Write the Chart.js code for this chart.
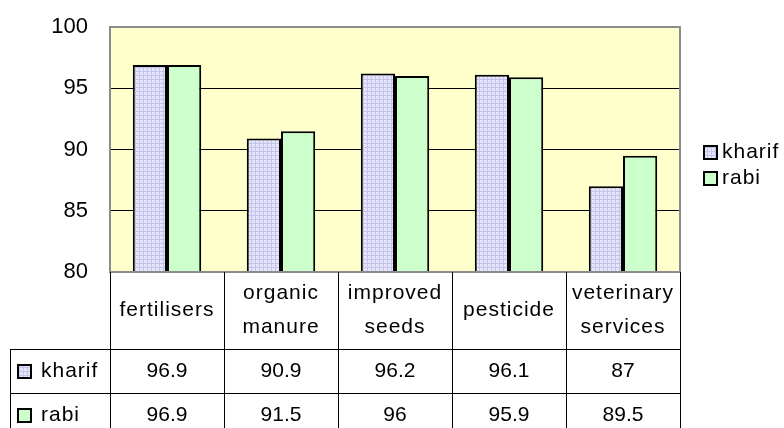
<!DOCTYPE html>
<html>
<head>
<meta charset="utf-8">
<script src="https://cdn.jsdelivr.net/npm/chart.js@4/dist/chart.umd.min.js"></script>
<style>
    html, body { margin: 0; padding: 0; background: #ffffff; }
    #wrap { width: 784px; height: 428px; }
</style>
</head>
<body>
<div id="wrap"><canvas id="chart" width="784" height="428"></canvas></div>
<script>
const categories = [['fertilisers'], ['organic', 'manure'], ['improved', 'seeds'], ['pesticide'], ['veterinary', 'services']];
const kharifValues = [96.9, 90.9, 96.2, 96.1, 87];
const rabiValues = [96.9, 91.5, 96, 95.9, 89.5];
const seriesNames = ['kharif', 'rabi'];
const yMin = 80;
const yMax = 100;
const yStep = 5;

const fontFamily = '"Liberation Sans", Arial, sans-serif';

function makeKharifPattern() {
    const tile = document.createElement('canvas');
    tile.width = 4;
    tile.height = 4;
    const c = tile.getContext('2d');
    c.fillStyle = '#e4e4fa';
    c.fillRect(0, 0, 4, 4);
    c.fillStyle = '#c4c4e8';
    c.fillRect(0, 3, 4, 1);
    c.fillRect(3, 0, 1, 4);
    return document.getElementById('chart').getContext('2d').createPattern(tile, 'repeat');
}

const kharifFill = makeKharifPattern();
const rabiFill = '#ccffcc';
const fills = [kharifFill, rabiFill];

function drawKey(ctx, x, y, size, fill) {
    ctx.save();
    ctx.fillStyle = fill;
    ctx.fillRect(x, y, size, size);
    ctx.lineWidth = 2;
    ctx.strokeStyle = '#000000';
    ctx.strokeRect(x, y, size, size);
    ctx.restore();
}

const tablePlugin = {
    id: 'dataTable',
    beforeDraw: function (chart) {
        const a = chart.chartArea;
        const ctx = chart.ctx;
        ctx.save();
        ctx.fillStyle = '#ffffcc';
        ctx.fillRect(a.left, a.top, a.right - a.left, a.bottom - a.top);
        ctx.restore();
    },
    afterDatasetsDraw: function (chart) {
        const a = chart.chartArea;
        const ctx = chart.ctx;
        ctx.save();
        ctx.strokeStyle = '#8c8c8c';
        ctx.lineWidth = 2;
        ctx.strokeRect(a.left, a.top, a.right - a.left, a.bottom - a.top);
        ctx.restore();
    },
    afterDraw: function (chart) {
        const a = chart.chartArea;
        const ctx = chart.ctx;
        const n = categories.length;
        const colW = (a.right - a.left) / n;
        const catBottom = a.bottom + 77;
        const rowH = 44;
        const tableLeft = 10;
        const canvasH = chart.height;

        ctx.save();
        ctx.strokeStyle = '#000000';
        ctx.lineWidth = 1;
        ctx.beginPath();
        // column boundaries
        for (let i = 0; i <= n; i++) {
            const x = Math.round(a.left + i * colW) + 0.5;
            ctx.moveTo(x, a.bottom);
            ctx.lineTo(x, canvasH);
        }
        // row boundaries
        ctx.moveTo(tableLeft, catBottom + 0.5);
        ctx.lineTo(a.right, catBottom + 0.5);
        ctx.moveTo(tableLeft, catBottom + rowH + 0.5);
        ctx.lineTo(a.right, catBottom + rowH + 0.5);
        ctx.moveTo(tableLeft + 0.5, catBottom);
        ctx.lineTo(tableLeft + 0.5, canvasH);
        ctx.stroke();

        ctx.fillStyle = '#000000';
        ctx.textAlign = 'center';
        ctx.textBaseline = 'middle';
        ctx.font = '21px ' + fontFamily;
        ctx.letterSpacing = '1px';

        // category header row
        const catMid = (a.bottom + catBottom) / 2;
        categories.forEach(function (lines, i) {
            const cx = chart.scales.x.getPixelForValue(i);
            if (lines.length === 1) {
                ctx.fillText(lines[0], cx, catMid);
            } else {
                ctx.fillText(lines[0], cx, catMid - 17);
                ctx.fillText(lines[1], cx, catMid + 17);
            }
        });

        // value rows
        const rows = [kharifValues, rabiValues];
        rows.forEach(function (values, r) {
            const cy = catBottom + rowH * r + rowH / 2;
            ctx.letterSpacing = '0px';
            values.forEach(function (v, i) {
                const cx = chart.scales.x.getPixelForValue(i);
                ctx.fillText(String(v), cx, cy);
            });
            drawKey(ctx, 18, cy - 6, 13, fills[r]);
            ctx.letterSpacing = '1px';
            ctx.textAlign = 'left';
            ctx.fillStyle = '#000000';
            ctx.fillText(seriesNames[r], 41, cy);
            ctx.textAlign = 'center';
        });

        // legend on the right
        ctx.textAlign = 'left';
        [152, 178].forEach(function (cy, r) {
            drawKey(ctx, 704, cy - 6, 13, fills[r]);
            ctx.fillStyle = '#000000';
            ctx.fillText(seriesNames[r], 722, cy);
        });
        ctx.restore();
    }
};

new Chart(document.getElementById('chart').getContext('2d'), {
    type: 'bar',
    data: {
        labels: categories.map(function (c) { return c.join(' '); }),
        datasets: [
            {
                label: seriesNames[0],
                data: kharifValues,
                backgroundColor: kharifFill,
                borderColor: '#000000',
                borderWidth: 2,
                borderSkipped: false
            },
            {
                label: seriesNames[1],
                data: rabiValues,
                backgroundColor: rabiFill,
                borderColor: '#000000',
                borderWidth: 2,
                borderSkipped: false
            }
        ]
    },
    options: {
        responsive: false,
        animation: false,
        maintainAspectRatio: false,
        datasets: {
            bar: {
                categoryPercentage: 0.6,
                barPercentage: 1
            }
        },
        layout: {
            autoPadding: false,
            padding: { top: 27, right: 104, left: 0, bottom: 0 }
        },
        plugins: {
            legend: { display: false },
            tooltip: { enabled: false }
        },
        scales: {
            x: {
                ticks: { display: false },
                grid: { display: false },
                border: { display: false },
                afterFit: function (scale) {
                    scale.height = 156;
                }
            },
            y: {
                min: yMin,
                max: yMax,
                ticks: {
                    stepSize: yStep,
                    padding: 22,
                    color: '#000000',
                    font: { family: fontFamily, size: 22 }
                },
                grid: {
                    color: '#000000',
                    lineWidth: 1,
                    drawTicks: false
                },
                border: { display: false },
                afterFit: function (scale) {
                    // tick padding also pads the axis ends; keep the plot flush with the layout padding
                    scale.width = 110;
                    scale.paddingTop = 0;
                    scale.paddingBottom = 0;
                }
            }
        }
    },
    plugins: [tablePlugin]
});
</script>
</body>
</html>
